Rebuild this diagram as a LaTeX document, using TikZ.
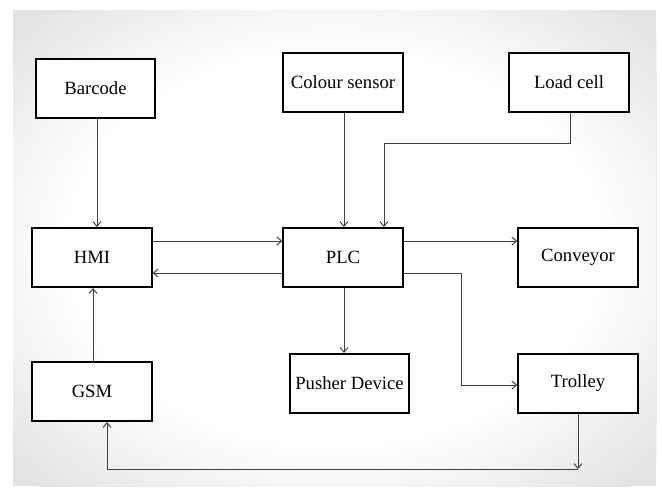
\documentclass[tikz,border=0pt]{standalone}
\usepackage{fontspec}
\setmainfont{Liberation Serif}
\usetikzlibrary{arrows.meta}
\definecolor{bggray}{gray}{0.89}
\definecolor{linegray}{gray}{0.25}
\begin{document}
\begin{tikzpicture}[x=0.75pt,y=-0.75pt,
  box/.style={draw=black,line width=1.5pt,fill=white,minimum width=89.5pt,minimum height=44.25pt,inner sep=0pt,font=\fontsize{14}{16}\selectfont},
  conn/.style={draw=linegray,line width=0.75pt,-{Straight Barb[length=3.5pt,width=6pt]}}]
\useasboundingbox (0,0) rectangle (662,487);
\fill[white] (0,0) rectangle (662,487);
\begin{scope}
\clip (13,10) rectangle (656,486);
\fill[bggray] (13,10) rectangle (656,486);
\foreach \i in {0,...,24}{
  \pgfmathsetmacro\k{1.36-\i*0.022}
  \pgfmathsetmacro\pct{\i*100/24}
  \fill[white!\pct!bggray] (334.5,248) ellipse [x radius={321.5*\k}, y radius={238*\k}];
}
\end{scope}

\node[box] (barcode) at (95.5,88.5) {Barcode};
\node[box] (colour) at (343,82.5) {Colour sensor};
\node[box] (load) at (569,82.5) {Load cell};
\node[box] (hmi) at (92,257.5) {HMI};
\node[box] (plc) at (343,257.5) {PLC};
\node[box] (conveyor) at (578,257.5) {Conveyor};
\node[box] (gsm) at (92,391.5) {GSM};
\node[box] (pusher) at (349.5,383.5) {Pusher Device};
\node[box] (trolley) at (578,383.5) {Trolley};
\coordinate (corner) at (578,469);

\draw[conn] (barcode.south -| 97,0) -- (hmi.north -| 97,0);
\draw[conn] (hmi.east |- 0,241) -- (plc.west |- 0,241);
\draw[conn] (plc.west |- 0,273) -- (hmi.east |- 0,273);
\draw[conn] (colour.south -| 344,0) -- (plc.north -| 344,0);
\draw[conn] (load.south -| 570,0) -- (570,143) -- (384,143) -- (plc.north -| 384,0);
\draw[conn] (plc.east |- 0,241) -- (conveyor.west |- 0,241);
\draw[conn] (plc.east |- 0,273) -- (461,273) -- (461,385) -- (trolley.west |- 0,385);
\draw[conn] (plc.south -| 344,0) -- (pusher.north -| 344,0);
\draw[conn] (gsm.north -| 93,0) -- (hmi.south -| 93,0);
\draw[conn] (trolley.south -| 578,0) -- (corner);
\draw[conn] (corner) -- (107,469) -- (gsm.south -| 107,0);
\end{tikzpicture}
\end{document}
